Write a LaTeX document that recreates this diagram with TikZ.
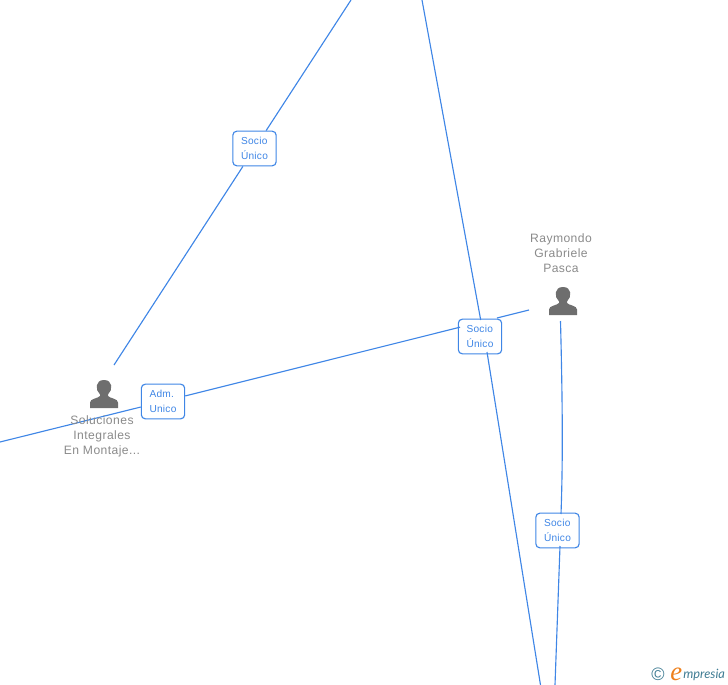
\documentclass[tikz,border=0pt]{standalone}
\usepackage{fontspec}
\setmainfont{Liberation Sans}
\newfontfamily\logofont{Liberation Serif}
\newfontfamily\logosans{Lato}
\newfontfamily\namefont[LetterSpace=3.5]{Liberation Sans}
\newfontfamily\tagfont[LetterSpace=2.5]{Liberation Sans}
\definecolor{linkblue}{HTML}{3F86E6}
\definecolor{namegray}{HTML}{8A8A8A}
\definecolor{icongray}{HTML}{6E6E6E}
\definecolor{logoteal}{HTML}{3F7C93}
\definecolor{logoorange}{HTML}{EE7F1B}
\begin{document}
\begin{tikzpicture}[x=0.75pt,y=-0.75pt,
  link/.style={linkblue,line width=0.85pt},
  tagbox/.style={draw=linkblue,fill=white,rounded corners=3pt,line width=0.85pt,minimum width=32.5pt,minimum height=26pt,inner sep=0pt,align=left,text=linkblue,font=\tagfont\fontsize{7.6}{11.2}\selectfont},
  personname/.style={align=center,text=namegray,inner sep=0pt,font=\namefont\fontsize{9.1}{11.2}\selectfont},
  person/.pic={
    \fill[icongray] (-14,14) -- (-14,8.5) .. controls (-14,4.5) and (-6,4.5) .. (-4,2) -- (-4,0.5) .. controls (-9,-4) and (-9,-14) .. (0,-14) .. controls (9,-14) and (9,-4) .. (4,0.5) -- (4,2) .. controls (6,4.5) and (14,4.5) .. (14,8.5) -- (14,14) -- cycle;
  }]
\useasboundingbox (0,0) rectangle (728,685);

% free ends
\coordinate (topl) at (351,0);
\coordinate (topr) at (422,0);
\coordinate (left) at (0,442);
\coordinate (botl) at (540.5,685);
\coordinate (botr) at (555,685);
\coordinate (sol) at (114,365);
\coordinate (ray) at (529,310);
\coordinate (rayb) at (560.5,321);
\coordinate (midn) at (480.7,320);
\coordinate (mids) at (487,352);
\coordinate (midw) at (460,327.2);
\coordinate (mide) at (497,318);
\coordinate (lown) at (561,514);
\coordinate (lows) at (560,546);

% tags
\node[tagbox] (t1) at (254.5,148.5) {Socio\\Único};
\node[tagbox] (t2) at (480,336.5) {Socio\\Único};
\node[tagbox] (t3) at (163,401.5) {Adm.\\Unico};
\node[tagbox] (t4) at (557.5,530.5) {Socio\\Único};

% links
\draw[link] (topl) -- (t1);
\draw[link] (t1) -- (sol);
\draw[link] (topr) -- (midn);
\draw[link] (mids) -- (botl);
\draw[link] (left) -- (t3);
\draw[link] (t3) -- (midw);
\draw[link] (mide) -- (ray);
\draw[link] (rayb) .. controls (562.5,400) and (563,460) .. (lown);
\draw[link] (lows) -- (botr);

% people
\pic at (104,394) {person};
\pic at (563,301) {person};
\node[personname] (solname) at (102,436.5) {Soluciones\\Integrales\\En Montaje...};
\node[personname] (rayname) at (561,253) {Raymondo\\Grabriele\\Pasca};

% logo
\node[inner sep=0pt,text=logoteal,font=\fontsize{13.5}{13.5}\selectfont] (copy) at (658,674.5) {©};
\node[inner sep=0pt,anchor=base west,text=logoorange,font=\logofont\itshape\fontsize{20}{20}\selectfont] (loge) at (670,680) {e};
\node[inner sep=0pt,anchor=base west,text=logoteal,font=\logosans\itshape\fontsize{9.6}{11}\selectfont] (logo) at (683,678) {mpresia};
\end{tikzpicture}
\end{document}
